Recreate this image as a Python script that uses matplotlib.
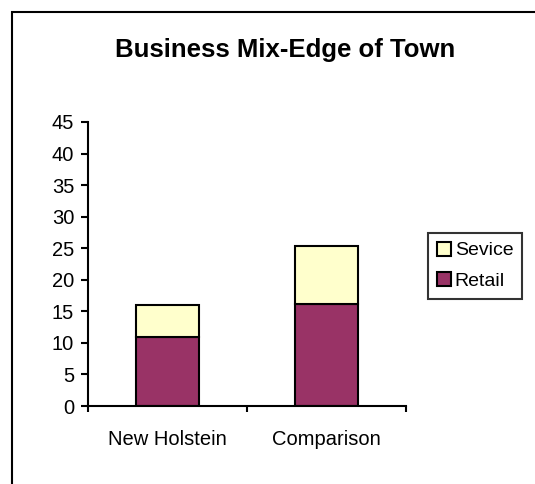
import matplotlib.pyplot as plt
from matplotlib.patches import Rectangle
import numpy as np

plt.rcParams['font.family'] = ['Liberation Sans', 'DejaVu Sans']

categories = ['New Holstein', 'Comparison']
retail = [11, 16.2]
service = [5, 9.1]

fig = plt.figure(figsize=(5.35, 4.84), dpi=100)
W, H = 535, 484

# outer chart border
fig.patches.append(Rectangle((12 / W, -0.1), 1.1, (H - 12) / H + 0.1,
                             transform=fig.transFigure, fill=False,
                             ec='black', lw=1.5))

ax = fig.add_axes([88 / W, 1 - 406 / H, (406 - 88) / W, (406 - 122) / H])
x = np.arange(len(categories))
ax.bar(x, retail, width=0.4, color='#993366', edgecolor='black', lw=1.5, label='Retail')
ax.bar(x, service, width=0.4, bottom=retail, color='#FFFFCC', edgecolor='black',
       lw=1.5, label='Sevice')

ax.set_xlim(-0.5, 1.5)
ax.set_ylim(0, 45)
ax.set_yticks(np.arange(0, 46, 5))
ax.set_xticks([-0.5, 0.5, 1.5])
ax.set_xticklabels([])
ax.set_xticks(x, minor=True)
ax.set_xticklabels(categories, minor=True)
ax.tick_params(axis='x', which='minor', length=0, pad=17.5, labelsize=14.5)
ax.tick_params(axis='x', which='major', length=4.5, width=1.5)
ax.tick_params(axis='y', length=5, width=1.5, labelsize=14.5, pad=5)
for s in ['top', 'right']:
    ax.spines[s].set_visible(False)
for s in ['left', 'bottom']:
    ax.spines[s].set_linewidth(1.5)

handles, labels = ax.get_legend_handles_labels()
leg = fig.legend(handles[::-1], labels[::-1], loc='upper left',
                 bbox_to_anchor=(428 / W, 1 - 233 / H), fontsize=14,
                 frameon=True, fancybox=False, edgecolor='black',
                 handlelength=0.72, handleheight=0.72, handletextpad=0.2,
                 borderpad=0.45, labelspacing=0.65, borderaxespad=0)
leg.get_frame().set_linewidth(1.5)

fig.text(285 / W, 1 - 50 / H, 'Business Mix-Edge of Town', ha='center',
         va='center', fontsize=18.5, fontweight='bold')

fig.savefig('out.png', dpi=100)
